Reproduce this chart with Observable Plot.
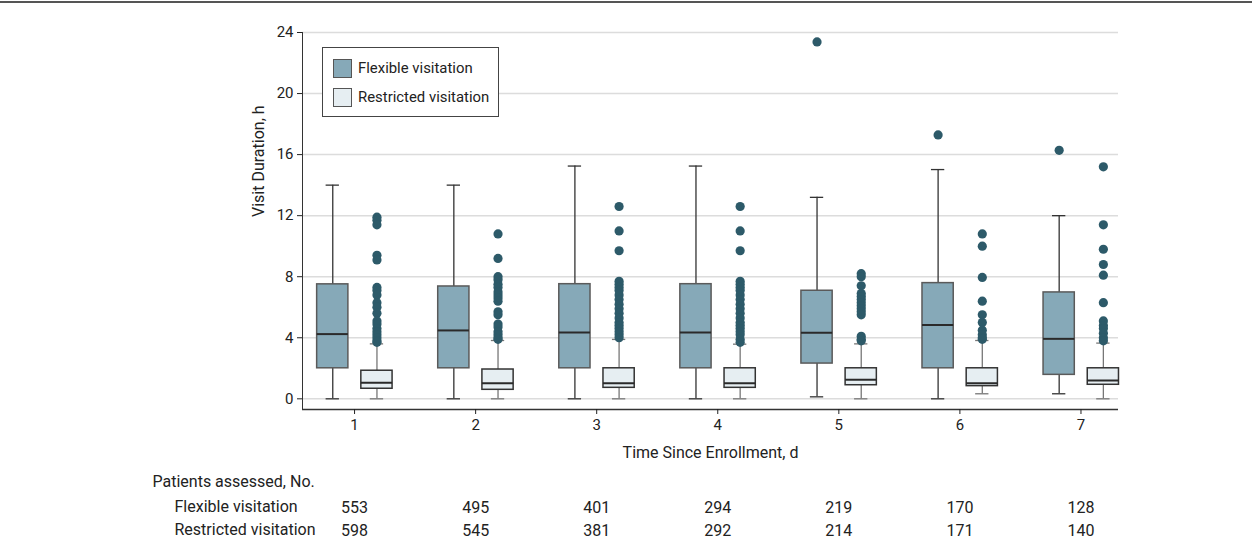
<!DOCTYPE html>
<html><head><meta charset="utf-8">
<script src="https://cdn.jsdelivr.net/npm/d3@7"></script>
<script src="https://cdn.jsdelivr.net/npm/@observablehq/plot@0.6"></script>
<style>
body{margin:0;background:#fff;font-family:Roboto, "DejaVu Sans", sans-serif;}
#wrap{position:relative;width:1252px;height:554px;overflow:hidden;}
#topline{position:absolute;left:0;top:1px;width:1252px;height:2px;background:#555;}
#legend{position:absolute;left:322px;top:47px;width:175px;height:68px;border:1px solid #444;background:#fff;font-size:14.9px;color:#222;}
.item{position:absolute;left:10px;display:flex;align-items:center;height:20px;}
.sw{width:17px;height:17px;border:1px solid #555;margin-right:6px;}
</style></head>
<body>
<div id="wrap">
  <div id="chart"></div>
  <div id="topline"></div>
  <div id="legend">
    <div class="item" style="top:10px"><div class="sw" style="background:#86a9b8"></div>Flexible visitation</div>
    <div class="item" style="top:39px"><div class="sw" style="background:#e6eef2"></div>Restricted visitation</div>
  </div>
</div>
<script>
const days = [1, 2, 3, 4, 5, 6, 7];
const yTicks = [0, 4, 8, 12, 16, 20, 24];
const flexN = [553, 495, 401, 294, 219, 170, 128];
const restN = [598, 545, 381, 292, 214, 171, 140];

const flexLow    = [0, 0, 0, 0, 0.13, 0, 0.33];
const flexQ1     = [2.0, 2.0, 2.0, 2.0, 2.31, 2.0, 1.57];
const flexMedian = [4.24, 4.48, 4.35, 4.35, 4.33, 4.83, 3.93];
const flexQ3     = [7.5, 7.36, 7.51, 7.51, 7.08, 7.58, 6.97];
const flexHigh   = [14.0, 14.0, 15.25, 15.25, 13.2, 15.02, 12.0];
const flexOutliers = [[], [], [], [], [23.38], [17.29], [16.28]];

const restLow    = [0, 0, 0, 0, 0, 0.33, 0];
const restQ1     = [0.66, 0.59, 0.72, 0.72, 0.89, 0.83, 0.92];
const restMedian = [1.05, 1.02, 1.02, 1.02, 1.25, 1.02, 1.2];
const restQ3     = [1.84, 1.92, 2.0, 2.0, 2.0, 2.0, 2.0];
const restHigh   = [3.6, 3.82, 3.89, 3.58, 3.6, 3.82, 3.65];
const restOutliers = [
  [11.9, 11.7, 11.4, 9.4, 9.1, 7.3, 7.1, 6.8, 6.3, 6.0, 5.6, 5.1, 4.9, 4.6, 4.4, 4.2, 4.0, 3.8, 3.7],
  [10.8, 9.2, 8.0, 7.8, 7.5, 7.3, 7.0, 6.8, 6.6, 6.4, 5.7, 5.5, 4.9, 4.7, 4.4, 4.2, 4.0, 3.9],
  [12.6, 11.0, 9.7, 7.7, 7.5, 7.3, 7.1, 6.8, 6.5, 6.2, 5.9, 5.6, 5.3, 5.0, 4.8, 4.6, 4.4, 4.2, 4.0],
  [12.6, 11.0, 9.7, 7.7, 7.5, 7.3, 7.1, 6.8, 6.5, 6.2, 5.9, 5.6, 5.3, 5.0, 4.8, 4.6, 4.4, 4.2, 3.9, 3.7],
  [8.2, 8.0, 7.4, 6.9, 6.7, 6.5, 6.3, 6.1, 5.9, 5.7, 5.5, 4.1, 3.9, 3.8],
  [10.8, 10.0, 7.95, 6.4, 5.5, 5.0, 4.5, 4.2, 4.0, 3.9],
  [15.2, 11.4, 9.8, 8.8, 8.1, 6.3, 5.1, 4.8, 4.6, 4.3, 4.0, 3.8]
];

// layout (not data)
const shift = {Flexible: -0.18, Restricted: 0.185};
const halfBox = 0.129, halfCap = 0.055;
const fill = {Flexible: "#86a9b8", Restricted: "#e6eef2"};
const boxStroke = {Flexible: "#5a5a5a", Restricted: "#333"};
const whiskStroke = {Flexible: "#333", Restricted: "#777"};

const boxes = [];
const outliers = [];
days.forEach((d, i) => {
  boxes.push({day: d, group: "Flexible", low: flexLow[i], q1: flexQ1[i], median: flexMedian[i], q3: flexQ3[i], high: flexHigh[i]});
  boxes.push({day: d, group: "Restricted", low: restLow[i], q1: restQ1[i], median: restMedian[i], q3: restQ3[i], high: restHigh[i]});
  flexOutliers[i].forEach(v => outliers.push({day: d, group: "Flexible", value: v}));
  restOutliers[i].forEach(v => outliers.push({day: d, group: "Restricted", value: v}));
});
const table = days.map((d, i) => ({day: d, flex: flexN[i], rest: restN[i]}));
const cx = d => d.day + shift[d.group];
const fs = 16;

const chart = Plot.plot({
  width: 1252, height: 554,
  marginLeft: 302, marginRight: 134, marginTop: 32, marginBottom: 145,
  style: {fontFamily: "Roboto, 'DejaVu Sans', sans-serif", fontSize: "15px", color: "#222", background: "transparent"},
  x: {type: "linear", domain: [0.57, 7.31]},
  y: {domain: [-0.7, 24]},
  marks: [
    Plot.gridY(yTicks, {stroke: "#dcdcdc", strokeOpacity: 1, strokeWidth: 1.5}),
    Plot.ruleX([0.57], {stroke: "#333"}),
    Plot.ruleY([-0.7], {stroke: "#333", strokeWidth: 1.3}),
    Plot.axisY({ticks: yTicks, tickSize: 5, tickPadding: 4, label: null}),
    Plot.axisX({ticks: days, tickSize: 5, tickPadding: 5, label: null, tickFormat: d => d}),
    Plot.ruleX(boxes, {x: cx, y1: "low", y2: "high", stroke: d => whiskStroke[d.group], strokeWidth: 1.3}),
    Plot.ruleY(boxes, {y: "low", x1: d => cx(d) - halfCap, x2: d => cx(d) + halfCap, stroke: d => whiskStroke[d.group], strokeWidth: 1.3}),
    Plot.ruleY(boxes, {y: "high", x1: d => cx(d) - halfCap, x2: d => cx(d) + halfCap, stroke: d => whiskStroke[d.group], strokeWidth: 1.3}),
    Plot.rect(boxes, {x1: d => cx(d) - halfBox, x2: d => cx(d) + halfBox, y1: "q1", y2: "q3", fill: d => fill[d.group], stroke: d => boxStroke[d.group], strokeWidth: 1.5}),
    Plot.ruleY(boxes, {y: "median", x1: d => cx(d) - halfBox, x2: d => cx(d) + halfBox, stroke: "#2a2a2a", strokeWidth: 2}),
    Plot.dot(outliers, {x: cx, y: "value", r: 4.6, fill: "#2d5a69", stroke: "none"}),
    Plot.text(["Time Since Enrollment, d"], {frameAnchor: "bottom", dy: 48, fontSize: fs, fill: "#222"}),
    Plot.text(["Visit Duration, h"], {frameAnchor: "left", dx: -44, dy: -4, rotate: -90, fontSize: fs, fill: "#222"}),
    Plot.text(["Patients assessed, No."], {frameAnchor: "bottom-left", dx: -150, dy: 77, textAnchor: "start", fontSize: fs, fill: "#222"}),
    Plot.text(["Flexible visitation"], {frameAnchor: "bottom-left", dx: -128, dy: 102, textAnchor: "start", fontSize: fs, fill: "#222"}),
    Plot.text(["Restricted visitation"], {frameAnchor: "bottom-left", dx: -128, dy: 125.5, textAnchor: "start", fontSize: fs, fill: "#222"}),
    Plot.text(table, {x: "day", text: "flex", frameAnchor: "bottom", dy: 103, fontSize: fs, fill: "#222"}),
    Plot.text(table, {x: "day", text: "rest", frameAnchor: "bottom", dy: 126.5, fontSize: fs, fill: "#222"})
  ]
});
document.getElementById("chart").appendChild(chart);
</script>
</body></html>
